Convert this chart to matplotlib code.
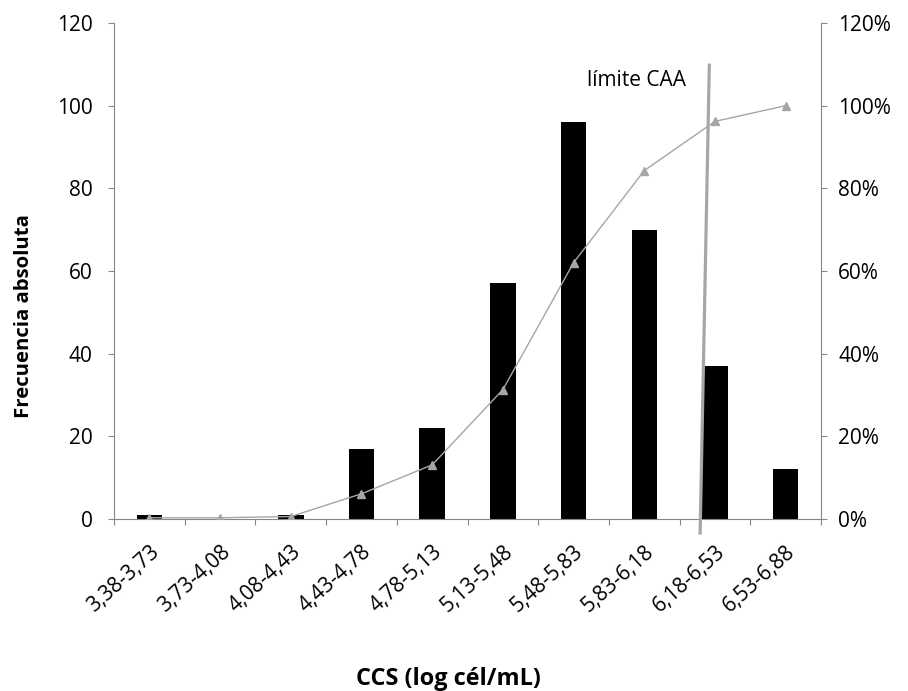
import matplotlib.pyplot as plt
import numpy as np

# data
categories = ["3,38-3,73", "3,73-4,08", "4,08-4,43", "4,43-4,78", "4,78-5,13",
              "5,13-5,48", "5,48-5,83", "5,83-6,18", "6,18-6,53", "6,53-6,88"]
frecuencia = [1, 0, 1, 17, 22, 57, 96, 70, 37, 12]
acumulado = [0.3, 0.3, 0.6, 6.1, 13.1, 31.3, 62.0, 84.3, 96.2, 100.0]

left_ticks = [0, 20, 40, 60, 80, 100, 120]
right_ticks = [0, 20, 40, 60, 80, 100, 120]

plt.rcParams['font.family'] = ['Open Sans', 'DejaVu Sans']
axis_grey = "#868686"
line_grey = "#A6A6A6"

fig = plt.figure(figsize=(9.08, 6.91), dpi=100)
ax = fig.add_axes([0.1256, 0.2489, 0.7786, 0.7178])
x = np.arange(len(categories))

ax.bar(x, frecuencia, width=0.36, color="black", zorder=2)
ax.set_xlim(-0.5, len(categories) - 0.5)
ax.set_ylim(0, 120)
ax.set_yticks(left_ticks)
ax.tick_params(axis='y', labelsize=15, length=4.5, width=0.8, color=axis_grey, pad=11)

# x ticks at the category boundaries, labels at the centres
ax.set_xticks(np.arange(len(categories) + 1) - 0.5)
ax.set_xticklabels([])
ax.set_xticks(x, minor=True)
ax.set_xticklabels(categories, minor=True, rotation=42, ha='right',
                   rotation_mode='anchor', fontsize=15)
ax.tick_params(axis='x', which='major', length=4.5, width=0.8, color=axis_grey)
ax.tick_params(axis='x', which='minor', length=0, pad=16)

for side in ['top', 'right']:
    ax.spines[side].set_visible(False)
for side in ['left', 'bottom']:
    ax.spines[side].set_color(axis_grey)
    ax.spines[side].set_linewidth(0.8)

# cumulative percentage on the secondary axis
ax2 = ax.twinx()
ax2.plot(x, acumulado, color=line_grey, lw=1.0, marker='^', markersize=6,
         markerfacecolor=line_grey, markeredgecolor=line_grey, zorder=3)
ax2.set_ylim(0, 120)
ax2.set_yticks(right_ticks)
ax2.set_yticklabels([f"{t}%" for t in right_ticks])
ax2.tick_params(axis='y', labelsize=15, length=4.5, width=0.8, color=axis_grey, pad=8)
for side in ['top', 'left', 'bottom']:
    ax2.spines[side].set_visible(False)
ax2.spines['right'].set_color(axis_grey)
ax2.spines['right'].set_linewidth(0.8)

# limite CAA line (drawn slightly slanted, like the original)
ax.plot([7.79, 7.92], [-3.4, 109.8], color=line_grey, lw=2.3, clip_on=False, zorder=4)
ax.text(6.19, 106.2, "límite CAA", fontsize=15, va='center', ha='left')

fig.text(0.0259, 0.5427, "Frecuencia absoluta", rotation=90, fontsize=14.7,
         fontweight='bold', ha='center', va='center')
fig.text(0.4934, 0.017, "CCS (log cél/mL)", fontsize=16.9, fontweight='bold',
         ha='center', va='center')

fig.savefig("out.png", dpi=100)
